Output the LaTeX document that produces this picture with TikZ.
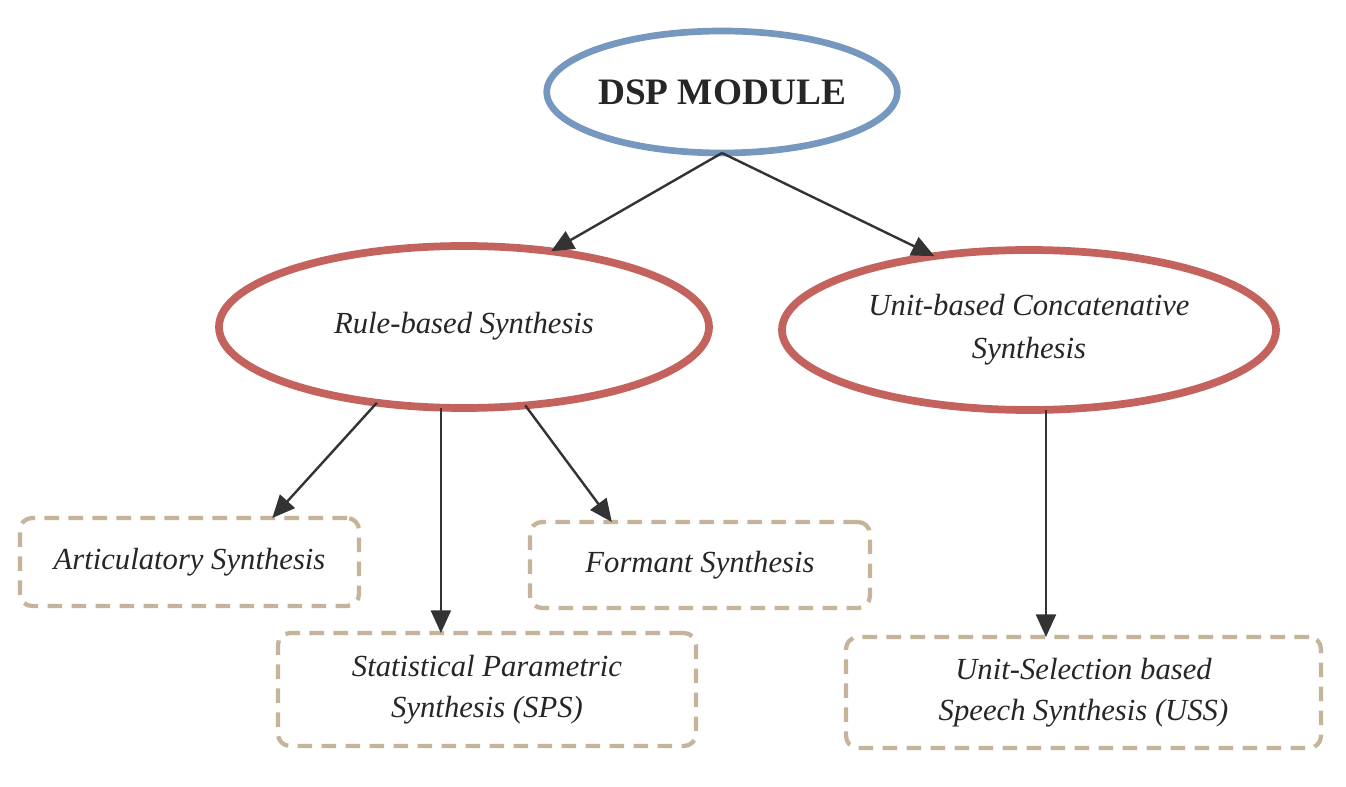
\documentclass[tikz,border=0pt]{standalone}
\usepackage{fontspec}
\setmainfont{Liberation Serif}
\usetikzlibrary{shapes.geometric,arrows.meta}
\definecolor{dspblue}{RGB}{118,151,190}
\definecolor{rulered}{RGB}{196,99,94}
\definecolor{dashtan}{RGB}{198,180,154}
\definecolor{arrowgray}{RGB}{51,51,51}
\tikzset{
  topell/.style={ellipse, draw=dspblue, line width=5pt, inner sep=0pt, outer sep=0pt,
    font=\fontsize{28}{32}\selectfont\bfseries, text=black!85},
  midell/.style={ellipse, draw=rulered, line width=5.8pt, inner sep=0pt, outer sep=0pt,
    align=center, font=\fontsize{23}{32}\selectfont\itshape, text=black!85},
  leafbox/.style={rectangle, rounded corners=9pt, draw=dashtan, line width=3.2pt,
    dash pattern=on 11pt off 7pt, inner sep=0pt, outer sep=0pt,
    align=center, font=\fontsize{23}{31}\selectfont\itshape, text=black!85},
  arr/.style={draw=arrowgray, line width=1.8pt, -{Triangle[length=17pt,width=15pt]}, arrowgray}
}
\begin{document}
\begin{tikzpicture}[x=0.75pt,y=-0.75pt]
\fill[white] (0,0) rectangle (1346,787);
\useasboundingbox (0,0) rectangle (1346,787);

\node[topell, minimum width=262.5pt, minimum height=91.5pt] (dsp) at (722,92) {DSP MODULE};

\node[midell, minimum width=367.5pt, minimum height=121.5pt] (rule) at (464,327) {\raisebox{6pt}{Rule-based Synthesis}};
\node[midell, minimum width=370.5pt, minimum height=120pt] (unit) at (1029,330) {Unit-based Concatenative\\Synthesis};

\node[leafbox, minimum width=254.25pt, minimum height=66pt] (art) at (189.5,562) {Articulatory Synthesis};
\node[leafbox, minimum width=255pt, minimum height=64.5pt] (form) at (700,565) {Formant Synthesis};
\node[leafbox, minimum width=313.5pt, minimum height=84.75pt] (sps) at (487,689.5) {Statistical Parametric\\Synthesis (SPS)};
\node[leafbox, minimum width=356.25pt, minimum height=83.25pt] (uss) at (1083.5,692.5) {Unit-Selection based\\Speech Synthesis (USS)};

\draw[arr] (dsp.south) -- (rule.41);
\draw[arr] (dsp.south) -- (unit.142.6);

\draw[arr] (rule.221) -- (art.28.7);
\draw[arr] (rule.254.9) -- (rule.254.9 |- sps.north);
\draw[arr] (rule.308.7) -- (form.154);

\draw[arr] (unit.282) -- (unit.282 |- uss.north);
\end{tikzpicture}
\end{document}
